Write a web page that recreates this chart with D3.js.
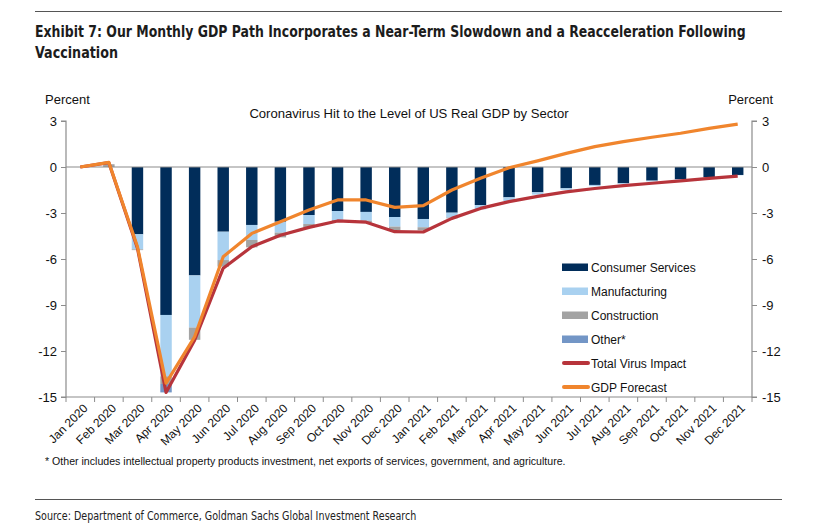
<!DOCTYPE html>
<html><head><meta charset="utf-8">
<script src="https://cdn.jsdelivr.net/npm/d3@7"></script>
<style>
body{margin:0;background:#fff;}
svg{display:block;}
</style></head>
<body>
<svg id="chart" width="829" height="527"></svg>
<script>
const months = ["Jan 2020","Feb 2020","Mar 2020","Apr 2020","May 2020","Jun 2020","Jul 2020","Aug 2020","Sep 2020","Oct 2020","Nov 2020","Dec 2020","Jan 2021","Feb 2021","Mar 2021","Apr 2021","May 2021","Jun 2021","Jul 2021","Aug 2021","Sep 2021","Oct 2021","Nov 2021","Dec 2021"];
const consumerServices = [0,0,-4.39,-9.65,-7.07,-4.22,-3.78,-3.57,-3.13,-2.87,-2.93,-3.26,-3.39,-2.98,-2.48,-1.98,-1.65,-1.39,-1.17,-1.06,-0.89,-0.80,-0.67,-0.52];
const manufacturing = [0,0,-0.98,-4.0,-3.4,-1.85,-0.98,-0.71,-0.59,-0.59,-0.57,-0.63,-0.54,-0.32,-0.28,-0.24,-0.15,-0.10,-0.08,-0.06,-0.05,-0.04,-0.03,-0.02];
const construction = [0,0.18,-0.05,-0.5,-0.8,-0.43,-0.48,-0.31,-0.22,-0.08,-0.13,-0.22,-0.2,-0.05,0,0,0,0,0,0,0,0,0,0];
const other = [0,0,0,-0.55,0,0,0,0,0,0,0,0,0,0,0,0,0,0,0,0,0,0,0,0];
const totalVirusImpact = [0,0.28,-5.3,-14.7,-11.3,-6.6,-5.2,-4.45,-3.94,-3.52,-3.6,-4.22,-4.24,-3.35,-2.7,-2.26,-1.92,-1.62,-1.40,-1.22,-1.06,-0.91,-0.74,-0.59];
const gdpForecast = [0,0.3,-5.2,-14.1,-11.07,-5.85,-4.33,-3.57,-2.8,-2.15,-2.15,-2.63,-2.52,-1.5,-0.74,-0.05,0.4,0.89,1.33,1.65,1.94,2.2,2.52,2.8];
const yTicks = [3,0,-3,-6,-9,-12,-15];
const seriesNames = ["Consumer Services","Manufacturing","Construction","Other*","Total Virus Impact","GDP Forecast"];
const colors = ["#012d5a","#a9d1f0","#a3a3a3","#7396c6","#b7343b","#f0852d"];

const svg = d3.select("#chart");
const pL = 66, pR = 752, pT = 121, pB = 397;
const x = d3.scaleBand().domain(months).range([pL, pR]).paddingInner(0.6).paddingOuter(0.3);
const xb = d3.scaleBand().domain(months).range([pL, pR]);
const y = d3.scaleLinear().domain([-15, 3]).range([pB, pT]);
const font = "'Liberation Sans', Arial, sans-serif";
const axisColor = "#8c8c8c";
const tfont = "'DejaVu Sans Condensed','Liberation Sans',sans-serif";

// text squeezed horizontally to a target width (condensed look)
function fitText(txt, x0, y0, width, size, weight, fill) {
  const g = svg.append("g");
  const t = g.append("text").attr("font-family",tfont).attr("font-weight",weight)
    .attr("font-size",size).attr("fill",fill).text(txt);
  const w = t.node().getComputedTextLength();
  g.attr("transform",`translate(${x0},${y0}) scale(${width/w},1)`);
}

// rules & title
svg.append("line").attr("x1",35).attr("x2",782).attr("y1",11.5).attr("y2",11.5).attr("stroke","#555").attr("stroke-width",1);
fitText("Exhibit 7: Our Monthly GDP Path Incorporates a Near-Term Slowdown and a Reacceleration Following",35,37,711,16,"bold","#1c1c1c");
fitText("Vaccination",35,58,83,16,"bold","#1c1c1c");
svg.append("line").attr("x1",35).attr("x2",782).attr("y1",499.5).attr("y2",499.5).attr("stroke","#555").attr("stroke-width",1);
fitText("Source: Department of Commerce, Goldman Sachs Global Investment Research",35,520,382,12.5,"normal","#222");

// axis titles
svg.append("text").attr("x",45).attr("y",104).attr("font-family",font).attr("font-size",13).attr("fill","#111").text("Percent");
svg.append("text").attr("x",773).attr("y",104).attr("text-anchor","end").attr("font-family",font).attr("font-size",13).attr("fill","#111").text("Percent");
svg.append("text").attr("x",409).attr("y",118).attr("text-anchor","middle").attr("font-family",font).attr("font-size",13.1).attr("fill","#111")
  .text("Coronavirus Hit to the Level of US Real GDP by Sector");

// stacked bars
const stackSeries = [consumerServices, manufacturing, construction, other];
months.forEach((m, i) => {
  let neg = 0, pos = 0;
  stackSeries.forEach((s, k) => {
    const v = s[i];
    if (v === 0) return;
    let y0, y1;
    if (v < 0) { y0 = neg; y1 = neg + v; neg = y1; }
    else { y0 = pos; y1 = pos + v; pos = y1; }
    svg.append("rect").attr("x", x(m)).attr("width", x.bandwidth())
      .attr("y", y(Math.max(y0,y1))).attr("height", Math.abs(y(y0)-y(y1)))
      .attr("fill", colors[k]);
  });
});

// zero line
svg.append("line").attr("x1",pL).attr("x2",pR).attr("y1",y(0)).attr("y2",y(0)).attr("stroke",axisColor).attr("stroke-width",1.2);

// axes
const yl = svg.append("g").attr("transform",`translate(${pL},0)`)
  .call(d3.axisLeft(y).tickValues(yTicks).tickSize(5).tickPadding(4).tickFormat(d3.format("d")));
const yr = svg.append("g").attr("transform",`translate(${pR},0)`)
  .call(d3.axisRight(y).tickValues(yTicks).tickSize(5).tickPadding(5).tickFormat(d3.format("d")));
[yl, yr].forEach(g => {
  g.select(".domain").attr("stroke",axisColor).attr("stroke-width",1.2);
  g.selectAll(".tick line").attr("stroke",axisColor);
  g.selectAll(".tick text").attr("font-family",font).attr("font-size",13).attr("fill","#111")
    .text(d => d < 0 ? "-" + Math.abs(d) : d);
});
yl.select(".domain").attr("d", `M-5,${pT}H0V${pB}H-5`);
yr.select(".domain").attr("d", `M5,${pT}H0V${pB}H5`);

// x axis
const gx = svg.append("g").attr("transform",`translate(0,${pB})`);
gx.append("line").attr("x1",pL).attr("x2",pR).attr("stroke",axisColor).attr("stroke-width",1.2);
const bounds = months.map(m => xb(m)).concat([pR]);
gx.selectAll("line.t").data(bounds).join("line").attr("class","t")
  .attr("x1",d=>d).attr("x2",d=>d).attr("y1",0).attr("y2",5).attr("stroke",axisColor);
gx.selectAll("text").data(months).join("text")
  .attr("transform", d => `translate(${x(d)+x.bandwidth()/2+3},7) rotate(-45)`)
  .attr("text-anchor","end").attr("dy","0.6em")
  .attr("font-family",font).attr("font-size",12).attr("fill","#111").text(d=>d);

// lines
const line = d3.line().x((d,i)=>x(months[i])+x.bandwidth()/2).y(d=>y(d));
svg.append("path").datum(totalVirusImpact).attr("d",line).attr("fill","none")
  .attr("stroke",colors[4]).attr("stroke-width",3.2).attr("stroke-linejoin","round");
svg.append("path").datum(gdpForecast).attr("d",line).attr("fill","none")
  .attr("stroke",colors[5]).attr("stroke-width",3.2).attr("stroke-linejoin","round");

// legend
const lg = svg.append("g");
seriesNames.forEach((n, k) => {
  const yy = 267 + k*24;
  if (k < 4) lg.append("rect").attr("x",562).attr("y",yy-3.5).attr("width",26).attr("height",7.5).attr("fill",colors[k]);
  else lg.append("line").attr("x1",564).attr("x2",588).attr("y1",yy).attr("y2",yy).attr("stroke",colors[k]).attr("stroke-width",4).attr("stroke-linecap","round");
  lg.append("text").attr("x",591).attr("y",yy+4.5).attr("font-family",font).attr("font-size",12).attr("fill","#111").text(n);
});

// footnote
svg.append("text").attr("x",45).attr("y",465).attr("font-family",font).attr("font-size",10.6).attr("fill","#111")
  .text("* Other includes intellectual property products investment, net exports of services, government, and agriculture.");
</script>
</body></html>
